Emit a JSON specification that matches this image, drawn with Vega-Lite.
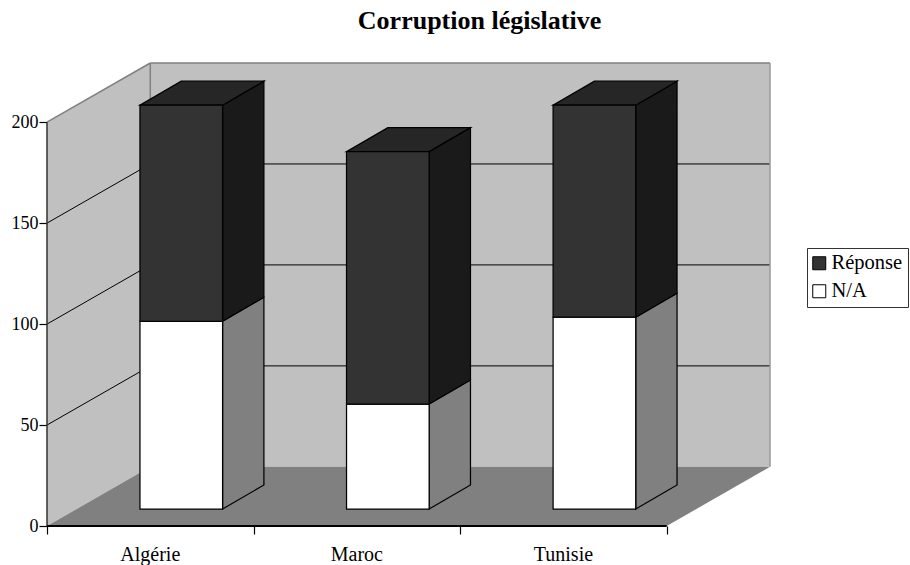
{
"$schema":"https://vega.github.io/schema/vega-lite/v6.json",
"width":723,"height":463,"autosize":"none",
"padding":{"left":47,"top":63,"right":140,"bottom":39},
"background":"white",
"title":{"text":"Corruption législative","font":"Liberation Serif","fontSize":26,"fontWeight":"bold","color":"black","anchor":"middle","frame":"group","dx":71,"offset":28},
"config":{"view":{"stroke":null},"font":"Liberation Serif"},
"datasets":{
"barres":[
{"pays":"Algérie","serie":"N/A","valeur":93},
{"pays":"Algérie","serie":"Réponse","valeur":107},
{"pays":"Maroc","serie":"N/A","valeur":52},
{"pays":"Maroc","serie":"Réponse","valeur":125},
{"pays":"Tunisie","serie":"N/A","valeur":95},
{"pays":"Tunisie","serie":"Réponse","valeur":105}],
"pays":[{"pays":"Algérie","i":0},{"pays":"Maroc","i":1},{"pays":"Tunisie","i":2}],
"grille":[{"v":50},{"v":100},{"v":150}],
"mur":[{"d":0},{"d":1}],
"sol":[{"c":0,"a":0,"b":0},{"c":0.5,"a":0,"b":29.3},{"c":3,"a":0,"b":29.3},{"c":3.5,"a":29.3,"b":29.3}]
},
"layer":[
{"data":{"name":"mur"},"transform":[{"calculate":"0.5+3*datum.d","as":"x"}],
 "mark":{"type":"area","fill":"#c0c0c0"},
 "encoding":{"x":{"field":"x","type":"quantitative","scale":{"domain":[0,3.5],"nice":false,"zero":false},"axis":{"values":[0,1,2,3],"labels":false,"domain":false,"grid":false,"tickColor":"black","tickSize":8,"tickWidth":1.2,"title":null}},
 "y":{"datum":29.3,"type":"quantitative","scale":{"domain":[0,229.3],"nice":false,"zero":false},"axis":{"values":[0,50,100,150,200],"domain":false,"grid":false,"tickColor":"black","tickSize":8,"tickWidth":1.2,"labelFont":"Liberation Serif","labelFontSize":18,"labelColor":"black","labelPadding":1,"title":null}},
 "y2":{"datum":229.3}}},
{"data":{"name":"mur"},"transform":[{"calculate":"0.5*datum.d","as":"x"},{"calculate":"29.3*datum.d","as":"a"},{"calculate":"200+29.3*datum.d","as":"b"}],
 "mark":{"type":"area","fill":"#c0c0c0"},
 "encoding":{"x":{"field":"x","type":"quantitative"},"y":{"field":"a","type":"quantitative"},"y2":{"field":"b"}}},
{"data":{"name":"sol"},
 "mark":{"type":"area","fill":"#808080"},
 "encoding":{"x":{"field":"c","type":"quantitative"},"y":{"field":"a","type":"quantitative"},"y2":{"field":"b"}}},
{"data":{"name":"grille"},"transform":[{"calculate":"datum.v+29.3","as":"w"}],
 "mark":{"type":"rule","color":"black","strokeWidth":1},
 "encoding":{"x":{"datum":0,"type":"quantitative"},"x2":{"datum":0.5},"y":{"field":"v","type":"quantitative"},"y2":{"field":"w"}}},
{"data":{"name":"grille"},"transform":[{"calculate":"datum.v+29.3","as":"w"}],
 "mark":{"type":"rule","color":"black","strokeWidth":1},
 "encoding":{"x":{"datum":0.5,"type":"quantitative"},"x2":{"datum":3.5},"y":{"field":"w","type":"quantitative"}}},
{"mark":{"type":"rule","color":"#808080","strokeWidth":1.5},"data":{"values":[{"k":1}]},
 "encoding":{"x":{"datum":0,"type":"quantitative"},"x2":{"datum":0.5},"y":{"datum":200,"type":"quantitative"},"y2":{"datum":229.3}}},
{"mark":{"type":"rule","color":"#808080","strokeWidth":1.5},"data":{"values":[{"k":1}]},
 "encoding":{"x":{"datum":0.5,"type":"quantitative"},"x2":{"datum":3.5},"y":{"datum":229.3,"type":"quantitative"}}},
{"mark":{"type":"rule","color":"#808080","strokeWidth":1.5},"data":{"values":[{"k":1}]},
 "encoding":{"x":{"datum":0.5,"type":"quantitative"},"y":{"datum":29.3,"type":"quantitative"},"y2":{"datum":229.3}}},
{"mark":{"type":"rule","color":"#999999","strokeWidth":1.5},"data":{"values":[{"k":1}]},
 "encoding":{"x":{"datum":3.5,"type":"quantitative"},"y":{"datum":29.3,"type":"quantitative"},"y2":{"datum":229.3}}},
{"mark":{"type":"rule","color":"#333333","strokeWidth":1.5},"data":{"values":[{"k":1}]},
 "encoding":{"x":{"datum":0,"type":"quantitative"},"y":{"datum":0,"type":"quantitative"},"y2":{"datum":200}}},
{"mark":{"type":"rule","color":"black","strokeWidth":2},"data":{"values":[{"k":1}]},
 "encoding":{"x":{"datum":0,"type":"quantitative"},"x2":{"datum":3},"y":{"datum":0,"type":"quantitative"}}},
{"data":{"name":"barres"},"transform":[
 {"stack":"valeur","groupby":["pays"],"sort":[{"field":"serie","order":"ascending"}],"as":["y0","y1"]},
 {"calculate":"indexof(['Algérie','Maroc','Tunisie'],datum.pays)","as":"i"},
 {"calculate":"datum.serie=='N/A'?'#808080':'#1a1a1a'","as":"couleur"},
 {"calculate":"[0,1]","as":"t"},{"flatten":["t"]},
 {"calculate":"datum.i+0.85+0.2*datum.t","as":"x"},
 {"calculate":"datum.y0+8.4+11.9*datum.t","as":"a"},
 {"calculate":"datum.y1+8.4+11.9*datum.t","as":"b"}],
 "mark":{"type":"area","stroke":"black","strokeWidth":1.25},
 "encoding":{"x":{"field":"x","type":"quantitative"},"y":{"field":"a","type":"quantitative","stack":null},"y2":{"field":"b"},"detail":{"field":"pays"},"fill":{"field":"couleur","type":"nominal","scale":null}}},
{"data":{"name":"barres"},"transform":[
 {"stack":"valeur","groupby":["pays"],"sort":[{"field":"serie","order":"ascending"}],"as":["y0","y1"]},
 {"filter":"datum.serie=='Réponse'"},
 {"calculate":"indexof(['Algérie','Maroc','Tunisie'],datum.pays)","as":"i"},
 {"calculate":"[0,0.2,0.4,0.6]","as":"t"},{"flatten":["t"]},
 {"calculate":"datum.i+0.45+datum.t","as":"x"},
 {"calculate":"datum.y1+8.4+(datum.t>0.5?11.9:0)","as":"a"},
 {"calculate":"datum.y1+8.4+(datum.t>0?11.9:0)","as":"b"}],
 "mark":{"type":"area","fill":"#262626","stroke":"black","strokeWidth":1.25},
 "encoding":{"x":{"field":"x","type":"quantitative"},"y":{"field":"a","type":"quantitative","stack":null},"y2":{"field":"b"},"detail":{"field":"pays"}}},
{"data":{"name":"barres"},"transform":[
 {"stack":"valeur","groupby":["pays"],"sort":[{"field":"serie","order":"ascending"}],"as":["y0","y1"]},
 {"calculate":"indexof(['Algérie','Maroc','Tunisie'],datum.pays)","as":"i"},
 {"calculate":"datum.i+0.45","as":"xa"},{"calculate":"datum.i+0.85","as":"xb"},
 {"calculate":"datum.y0+8.4","as":"a"},{"calculate":"datum.y1+8.4","as":"b"}],
 "mark":{"type":"rect","stroke":"black","strokeWidth":1.25},
 "encoding":{"x":{"field":"xa","type":"quantitative"},"x2":{"field":"xb"},"y":{"field":"a","type":"quantitative"},"y2":{"field":"b"},
 "fill":{"field":"serie","type":"nominal","scale":{"domain":["Réponse","N/A"],"range":["#333333","#ffffff"]},
 "legend":{"title":null,"orient":"none","legendX":760,"legendY":185,"symbolType":"square","symbolSize":169,"symbolStrokeColor":"black","symbolStrokeWidth":1,"symbolOffset":-3,"labelFont":"Liberation Serif","labelFontSize":20.5,"labelColor":"black","strokeColor":"#333333","padding":5,"rowPadding":7,"labelOffset":2}}}},
{"data":{"name":"pays"},"transform":[{"calculate":"datum.i+0.5","as":"x"}],
 "mark":{"type":"text","font":"Liberation Serif","fontSize":20,"color":"black","dy":29},
 "encoding":{"x":{"field":"x","type":"quantitative"},"y":{"datum":0,"type":"quantitative"},"text":{"field":"pays"}}}
]
}
